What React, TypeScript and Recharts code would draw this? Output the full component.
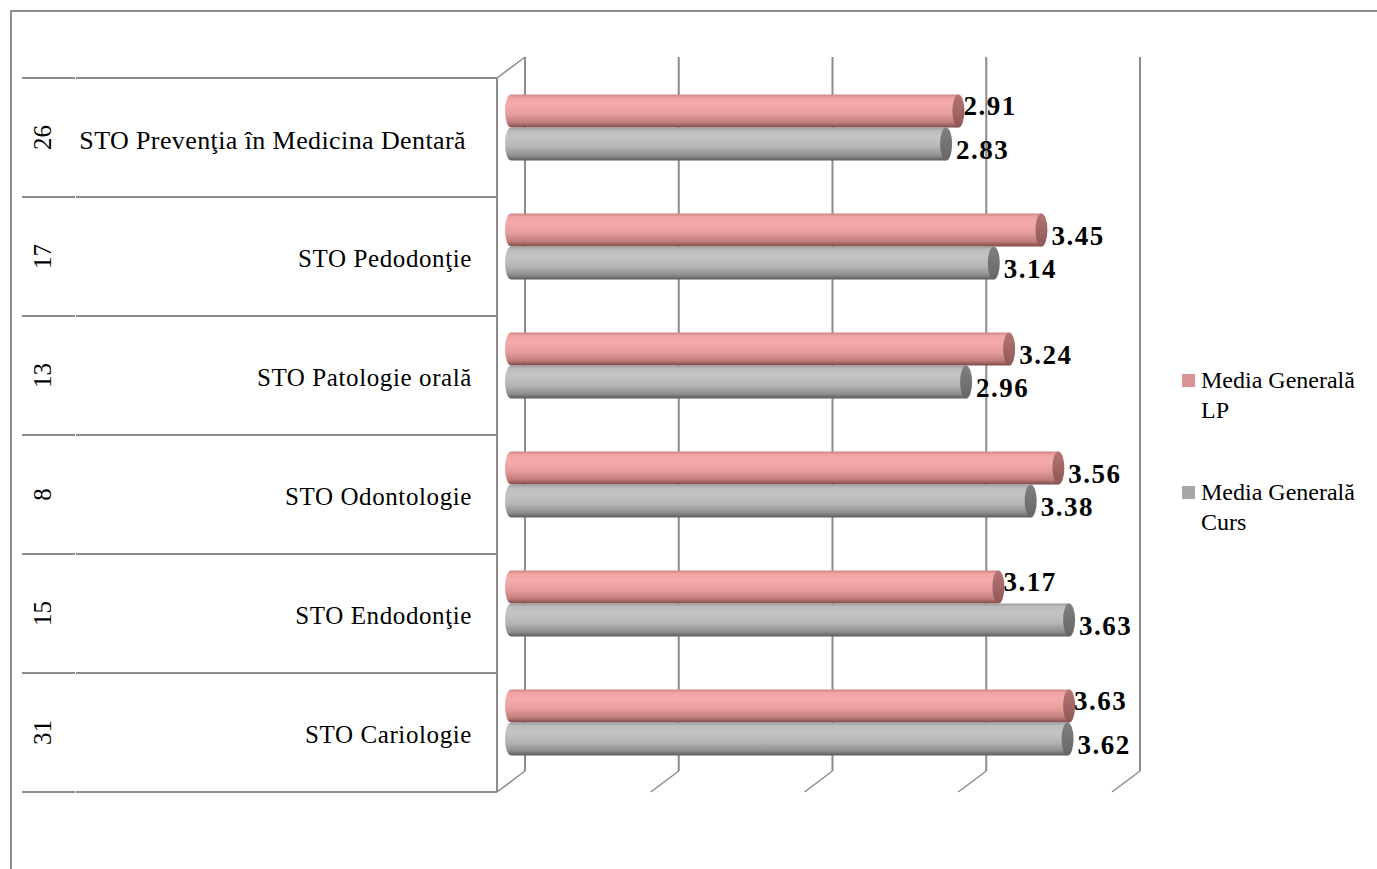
import React from 'react';
import { BarChart, Bar, XAxis, YAxis, CartesianGrid, Legend, LabelList } from 'recharts';

const categories = [
  'STO Prevenţia în Medicina Dentară',
  'STO Pedodonţie',
  'STO Patologie orală',
  'STO Odontologie',
  'STO Endodonţie',
  'STO Cariologie',
];
const groupCodes = ['26', '17', '13', '8', '15', '31'];
const lpValues = [2.91, 3.45, 3.24, 3.56, 3.17, 3.63];
const cursValues = [2.83, 3.14, 2.96, 3.38, 3.63, 3.62];
const xTicks = [0, 1, 2, 3, 4];
const seriesNames = ['Media Generală LP', 'Media Generală Curs'];
const seriesColors = ['#d99594', '#a6a6a6'];

const data = categories.map((name, i) => ({
  name,
  code: groupCodes[i],
  lp: lpValues[i],
  curs: cursValues[i],
}));

// chart geometry (mid-depth plane of the fake 3D box)
const W = 1377;
const H = 869;
const PLOT_LEFT = 511;
const PLOT_RIGHT = 1126;
const PLOT_TOP = 67.5;
const PLOT_BOTTOM = 781.5;
const BAND = (PLOT_BOTTOM - PLOT_TOP) / categories.length;
const DX = 14; // half depth, x
const DY = 10.5; // half depth, y
const LINE = '#8c8c8c';
const SERIF = '"Liberation Serif", "Times New Roman", serif';

const GridLine = (p: any) => {
  const xb = p.x1 + DX;
  const top = p.y1 - DY;
  const bottom = p.y2 - DY;
  return (
    <g key={p.key}>
      <line x1={xb} y1={top} x2={xb} y2={bottom} stroke={LINE} strokeWidth={2} />
      <line x1={xb} y1={bottom} x2={xb - 2 * DX} y2={bottom + 2 * DY} stroke={LINE} strokeWidth={1.5} />
      {p.index === 0 && (
        <g>
          <line x1={xb - 2 * DX} y1={top + 2 * DY} x2={xb - 2 * DX} y2={bottom + 2 * DY} stroke={LINE} strokeWidth={2} />
          <line x1={xb - 2 * DX} y1={top + 2 * DY} x2={xb} y2={top} stroke={LINE} strokeWidth={1.5} />
        </g>
      )}
    </g>
  );
};

const CategoryTick = (p: any) => {
  const i = p.index;
  const y = p.y;
  const frontTop = y - BAND / 2 + DY;
  const frontBottom = y + BAND / 2 + DY;
  const row = data[i];
  const isFirst = i === 0;
  return (
    <g>
      <line x1={22} y1={frontTop} x2={75} y2={frontTop} stroke={LINE} strokeWidth={2} />
      <line x1={76} y1={frontTop} x2={PLOT_LEFT - DX} y2={frontTop} stroke={LINE} strokeWidth={2} />
      {i === categories.length - 1 && (
        <g>
          <line x1={22} y1={frontBottom} x2={75} y2={frontBottom} stroke={LINE} strokeWidth={2} />
          <line x1={76} y1={frontBottom} x2={PLOT_LEFT - DX} y2={frontBottom} stroke={LINE} strokeWidth={2} />
        </g>
      )}
      <text
        x={0}
        y={0}
        transform={`translate(42, ${y + DY}) rotate(-90)`}
        textAnchor="middle"
        dy="0.35em"
        fontFamily={SERIF}
        fontSize={25}
        fill="#000"
      >
        {row.code}
      </text>
      <text
        x={isFirst ? 466 : 472}
        y={y + DY + 2}
        textAnchor="end"
        dy="0.35em"
        fontFamily={SERIF}
        fontSize={isFirst ? 26 : 25}
        letterSpacing={isFirst ? 0.4 : 0.6}
        fill="#000"
      >
        {row.name}
      </text>
    </g>
  );
};

const Cylinder = (p: any) => {
  const { x, y, width, height, grad, cap } = p;
  if (width <= 0) return null;
  const rx = 6;
  const ry = height / 2;
  const d = `M ${x} ${y} L ${x + width} ${y} L ${x + width} ${y + height} L ${x} ${y + height} A ${rx} ${ry} 0 0 1 ${x} ${y} Z`;
  return (
    <g>
      <path d={d} fill={`url(#${grad})`} />
      <ellipse cx={x + width} cy={y + ry} rx={rx} ry={ry} fill={`url(#${cap})`} />
    </g>
  );
};

const LabelText = ({ x, y, value }: any) => (
  <text
    x={x}
    y={y}
    dy="0.35em"
    fontFamily={SERIF}
    fontWeight="bold"
    fontSize={27}
    letterSpacing={1.5}
    fill="#000"
  >
    {Number(value).toFixed(2)}
  </text>
);

// LP labels sit above the bar when the Curs bar below is nearly as long
const lpLabel = (p: any) => {
  const i = p.index ?? 0;
  const up = cursValues[i] >= lpValues[i] - 0.1;
  return (
    <LabelText
      x={p.x + p.width + (up ? 5 : 10)}
      y={p.y + p.height / 2 + (up ? -5 : 6)}
      value={p.value}
    />
  );
};

const cursLabel = (p: any) => (
  <LabelText x={p.x + p.width + 10} y={p.y + p.height / 2 + 6} value={p.value} />
);

const LegendBox = () => (
  <div style={{ fontFamily: SERIF, fontSize: 24, lineHeight: '30px', color: '#000' }}>
    {seriesNames.map((name, i) => (
      <div key={i} style={{ display: 'flex', alignItems: 'flex-start', marginBottom: 52 }}>
        <div style={{ width: 13, height: 13, background: seriesColors[i], marginTop: 9, marginRight: 6, flex: 'none' }} />
        <div style={{ width: 176 }}>{name}</div>
      </div>
    ))}
  </div>
);

export default function App() {
  return (
    <div style={{ position: 'absolute', left: 0, top: 0, width: W, height: H, overflow: 'hidden', background: '#fff' }}>
      <div
        style={{
          position: 'absolute',
          left: 10,
          top: 10,
          width: W + 20,
          height: H + 20,
          borderTop: `2px solid ${LINE}`,
          borderLeft: `2px solid ${LINE}`,
        }}
      />
      <BarChart
        width={W}
        height={H}
        data={data}
        layout="vertical"
        margin={{ top: PLOT_TOP, right: W - PLOT_RIGHT, bottom: H - PLOT_BOTTOM, left: 0 }}
        barGap={0}
        style={{ position: 'absolute', left: 0, top: 0 }}
      >
        <defs>
          <linearGradient id="pinkBody" x1="0" y1="0" x2="0" y2="1">
            <stop offset="0%" stopColor="#c98584" />
            <stop offset="10%" stopColor="#f1a4a3" />
            <stop offset="30%" stopColor="#f5abaa" />
            <stop offset="60%" stopColor="#e69c9b" />
            <stop offset="85%" stopColor="#c07d7c" />
            <stop offset="100%" stopColor="#7e4847" />
          </linearGradient>
          <linearGradient id="grayBody" x1="0" y1="0" x2="0" y2="1">
            <stop offset="0%" stopColor="#9c9c9c" />
            <stop offset="10%" stopColor="#bdbdbd" />
            <stop offset="30%" stopColor="#c4c4c4" />
            <stop offset="60%" stopColor="#b5b5b5" />
            <stop offset="85%" stopColor="#909090" />
            <stop offset="100%" stopColor="#5c5c5c" />
          </linearGradient>
          <linearGradient id="pinkCap" x1="0" y1="0" x2="0" y2="1">
            <stop offset="0%" stopColor="#b47574" />
            <stop offset="100%" stopColor="#8e5756" />
          </linearGradient>
          <linearGradient id="grayCap" x1="0" y1="0" x2="0" y2="1">
            <stop offset="0%" stopColor="#808080" />
            <stop offset="100%" stopColor="#666666" />
          </linearGradient>
        </defs>
        <CartesianGrid horizontal={false} vertical={GridLine} />
        <XAxis type="number" domain={[0, 4]} ticks={xTicks} hide />
        <YAxis
          type="category"
          dataKey="name"
          width={PLOT_LEFT}
          axisLine={false}
          tickLine={false}
          tick={CategoryTick}
          interval={0}
        />
        <Legend
          layout="vertical"
          align="center"
          verticalAlign="middle"
          content={LegendBox}
          wrapperStyle={{ left: 1182, top: 365, width: 195 }}
        />
        <Bar
          dataKey="lp"
          name={seriesNames[0]}
          fill={seriesColors[0]}
          barSize={33}
          isAnimationActive={false}
          shape={(p: any) => <Cylinder {...p} grad="pinkBody" cap="pinkCap" />}
        >
          <LabelList dataKey="lp" content={lpLabel} />
        </Bar>
        <Bar
          dataKey="curs"
          name={seriesNames[1]}
          fill={seriesColors[1]}
          barSize={33}
          isAnimationActive={false}
          shape={(p: any) => <Cylinder {...p} grad="grayBody" cap="grayCap" />}
        >
          <LabelList dataKey="curs" content={cursLabel} />
        </Bar>
      </BarChart>
    </div>
  );
}
